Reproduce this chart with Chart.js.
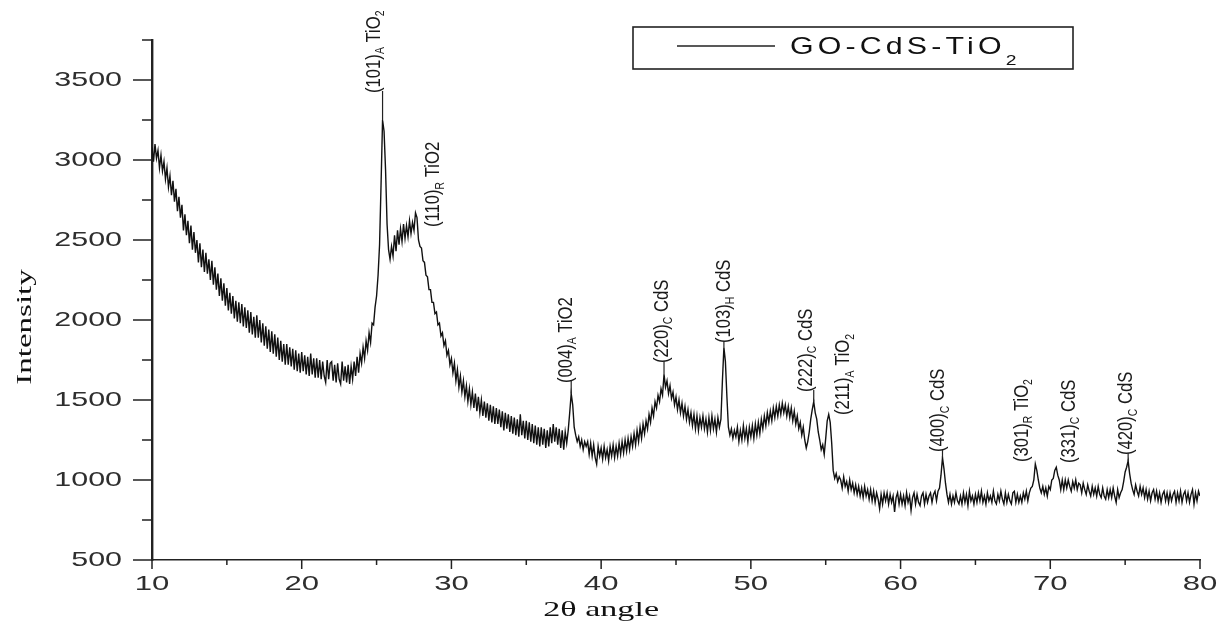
<!DOCTYPE html>
<html>
<head>
<meta charset="utf-8">
<script src="https://cdn.jsdelivr.net/npm/chart.js@4.4.1/dist/chart.umd.min.js"></script>
<style>
  html, body { margin: 0; background: #fff; }
  canvas { display: block; }
</style>
</head>
<body>
<canvas id="xrd" width="1218" height="629"></canvas>
<script>
// XRD pattern of GO-CdS-TiO2, one value every 0.1 degree from 10 to 80
const angleStart = 10;
const angleStep = 0.1;
const intensity = [
  3080, 2990, 3100, 3010, 3060, 2950, 3030, 2930, 2990, 2880, // 10
  2950, 2830, 2900, 2780, 2870, 2740, 2820, 2680, 2770, 2640, // 11
  2720, 2560, 2660, 2530, 2620, 2480, 2590, 2440, 2550, 2420, // 12
  2500, 2360, 2480, 2330, 2440, 2300, 2420, 2290, 2380, 2250, // 13
  2370, 2220, 2330, 2190, 2290, 2150, 2260, 2120, 2230, 2090, // 14
  2200, 2060, 2170, 2040, 2150, 2010, 2120, 1990, 2110, 1980, // 15
  2100, 1960, 2080, 1950, 2060, 1920, 2050, 1910, 2020, 1890, // 16
  2030, 1890, 2000, 1860, 1980, 1840, 1960, 1820, 1940, 1800, // 17
  1930, 1790, 1910, 1770, 1890, 1750, 1870, 1740, 1850, 1720, // 18
  1850, 1720, 1830, 1710, 1820, 1690, 1810, 1680, 1790, 1670, // 19
  1800, 1680, 1780, 1660, 1770, 1650, 1790, 1660, 1760, 1640, // 20
  1760, 1640, 1750, 1630, 1740, 1650, 1610, 1750, 1630, 1730, // 21
  1740, 1620, 1720, 1610, 1730, 1630, 1600, 1740, 1620, 1710, // 22
  1610, 1720, 1600, 1710, 1630, 1740, 1650, 1770, 1670, 1790, // 23
  1730, 1830, 1760, 1870, 1810, 1920, 1860, 1980, 1970, 2080, // 24
  2150, 2280, 2470, 2850, 3250, 3180, 2940, 2600, 2440, 2380, // 25
  2460, 2400, 2530, 2430, 2560, 2470, 2570, 2490, 2600, 2510, // 26
  2590, 2520, 2620, 2540, 2610, 2560, 2670, 2640, 2500, 2460, // 27
  2450, 2370, 2360, 2280, 2270, 2190, 2190, 2110, 2110, 2040, // 28
  2050, 1970, 1980, 1900, 1920, 1840, 1870, 1780, 1810, 1720, // 29
  1760, 1670, 1730, 1620, 1690, 1580, 1650, 1550, 1620, 1520, // 30
  1590, 1490, 1570, 1470, 1550, 1450, 1540, 1430, 1520, 1420, // 31
  1500, 1400, 1490, 1390, 1480, 1370, 1470, 1360, 1460, 1350, // 32
  1450, 1350, 1440, 1330, 1430, 1310, 1420, 1320, 1410, 1300, // 33
  1400, 1290, 1390, 1280, 1380, 1270, 1410, 1280, 1370, 1260, // 34
  1370, 1250, 1360, 1240, 1350, 1230, 1340, 1220, 1330, 1210, // 35
  1330, 1220, 1320, 1200, 1310, 1210, 1330, 1230, 1350, 1240, // 36
  1330, 1220, 1320, 1200, 1310, 1190, 1300, 1230, 1310, 1420, // 37
  1540, 1470, 1330, 1280, 1240, 1270, 1210, 1250, 1190, 1240, // 38
  1210, 1240, 1160, 1230, 1150, 1220, 1140, 1100, 1210, 1150, // 39
  1200, 1130, 1210, 1140, 1190, 1120, 1210, 1150, 1220, 1140, // 40
  1210, 1150, 1230, 1160, 1240, 1170, 1250, 1180, 1260, 1190, // 41
  1270, 1210, 1290, 1220, 1310, 1240, 1330, 1260, 1350, 1290, // 42
  1370, 1320, 1410, 1360, 1450, 1400, 1490, 1450, 1530, 1490, // 43
  1570, 1530, 1660, 1580, 1620, 1540, 1590, 1510, 1550, 1470, // 44
  1520, 1440, 1500, 1420, 1480, 1400, 1460, 1380, 1440, 1360, // 45
  1420, 1340, 1410, 1320, 1400, 1310, 1390, 1330, 1400, 1320, // 46
  1380, 1300, 1390, 1310, 1400, 1320, 1380, 1300, 1390, 1330, // 47
  1380, 1620, 1830, 1740, 1520, 1330, 1280, 1320, 1260, 1310, // 48
  1270, 1330, 1240, 1310, 1250, 1340, 1260, 1320, 1240, 1330, // 49
  1270, 1340, 1260, 1350, 1280, 1360, 1290, 1380, 1320, 1400, // 50
  1340, 1420, 1360, 1430, 1370, 1450, 1390, 1460, 1400, 1470, // 51
  1410, 1480, 1420, 1470, 1400, 1460, 1390, 1450, 1370, 1430, // 52
  1350, 1400, 1320, 1360, 1280, 1330, 1250, 1200, 1240, 1300, // 53
  1380, 1440, 1490, 1420, 1380, 1300, 1250, 1190, 1220, 1160, // 54
  1260, 1370, 1410, 1360, 1230, 1060, 1010, 1040, 990, 1020,  // 55
  1000, 950, 1020, 960, 990, 930, 1000, 940, 980, 920,        // 56
  970, 910, 960, 900, 950, 890, 960, 900, 940, 880,           // 57
  940, 870, 930, 860, 920, 880, 820, 910, 850, 920,           // 58
  870, 920, 850, 910, 860, 900, 800, 890, 920, 850,           // 59
  910, 850, 900, 840, 920, 860, 900, 810, 890, 920,           // 60
  850, 910, 860, 840, 900, 920, 850, 910, 860, 900,           // 61
  920, 860, 910, 930, 870, 930, 950, 1030, 1140, 1070,        // 62
  980, 910, 860, 910, 850, 900, 860, 920, 870, 850,           // 63
  900, 850, 920, 860, 910, 840, 930, 870, 900, 850,           // 64
  910, 860, 920, 870, 930, 860, 900, 850, 920, 870,           // 65
  900, 860, 930, 870, 850, 910, 870, 930, 880, 850,           // 66
  920, 860, 910, 870, 850, 920, 930, 860, 910, 860,           // 67
  900, 860, 920, 880, 930, 870, 920, 950, 960, 1000,          // 68
  1100, 1060, 1000, 950, 920, 960, 910, 950, 900, 960,        // 69
  940, 1000, 1010, 1060, 1080, 1030, 1000, 940, 1000, 940,    // 70
  1000, 950, 1000, 960, 930, 990, 950, 1000, 940, 980,        // 71
  970, 920, 980, 940, 910, 970, 930, 900, 960, 910,           // 72
  950, 900, 960, 910, 890, 950, 900, 880, 940, 890,           // 73
  940, 890, 950, 900, 860, 940, 890, 920, 940, 990,           // 74
  1050, 1080, 1120, 1040, 980, 940, 910, 970, 930, 900,       // 75
  960, 910, 950, 890, 940, 880, 930, 870, 920, 940,           // 76
  880, 930, 870, 920, 860, 910, 930, 870, 920, 860,           // 77
  920, 870, 910, 930, 860, 920, 870, 930, 860, 910,           // 78
  930, 870, 920, 860, 910, 940, 850, 920, 870, 930,           // 79
  900                                                         // 80
];

const xTicks = [10, 20, 30, 40, 50, 60, 70, 80];
const xMinorTicks = [15, 25, 35, 45, 55, 65, 75];
const yTicks = [500, 1000, 1500, 2000, 2500, 3000, 3500];
const yMinorTicks = [750, 1250, 1750, 2250, 2750, 3250, 3750];

// peak annotations: Miller index, phase, compound (+ subscript)
const peakHkl = ['(101)', '(110)', '(004)', '(220)', '(103)', '(222)', '(211)', '(400)', '(301)', '(331)', '(420)'];
const peakPhase = ['A', 'R', 'A', 'C', 'H', 'C', 'A', 'C', 'R', 'C', 'C'];
const peakCompound = ['TiO', 'TiO2', 'TiO2', 'CdS', 'CdS', 'CdS', 'TiO', 'CdS', 'TiO', 'CdS', 'CdS'];
const peakCompoundSub = ['2', '', '', '', '', '', '2', '', '2', '', ''];
// where each label starts (angle, intensity) and the peak it points at
const labelAngle = [24.85, 28.8, 37.65, 44.08, 48.2, 53.68, 56.2, 62.55, 68.1, 71.25, 75.1];
const labelBase = [3419, 2581, 1606, 1731, 1856, 1550, 1406, 1175, 1112, 1106, 1156];
const leaderAngle = [25.4, null, 38.0, 44.2, 48.2, 54.2, null, 62.8, null, null, 75.2];
const leaderTop = [3250, null, 1540, 1660, 1830, 1490, null, 1140, null, null, 1120];

const seriesName = 'GO-CdS-TiO';
const seriesNameSub = '2';

const points = intensity.map((v, i) => ({ x: +(angleStart + i * angleStep).toFixed(1), y: v }));

// draws a run of text pieces (with subscripts), stretched along / across the baseline
function drawRun(ctx, parts, x, y, opts) {
  const rot = opts.rot || 0, sx = opts.sx || 1, sy = opts.sy || 1, align = opts.align || 'left';
  ctx.save();
  ctx.translate(x, y);
  if (rot) ctx.rotate(rot);
  ctx.scale(sx, sy);
  let w = 0;
  parts.forEach(p => { ctx.font = p.font; w += ctx.measureText(p.text).width; });
  let cx = align === 'right' ? -w : align === 'center' ? -w / 2 : 0;
  ctx.textAlign = 'left';
  ctx.textBaseline = 'middle';
  parts.forEach(p => {
    ctx.font = p.font;
    ctx.fillText(p.text, cx, p.dy || 0);
    cx += ctx.measureText(p.text).width;
  });
  ctx.restore();
}

const decor = {
  id: 'decor',
  afterDraw(chart) {
    const { ctx, chartArea: area } = chart;
    const xs = chart.scales.x, ys = chart.scales.y;
    ctx.save();
    ctx.strokeStyle = '#222';

    // tick marks, outward
    ctx.lineWidth = 1.5;
    ctx.beginPath();
    xTicks.forEach(v => { const p = xs.getPixelForValue(v); ctx.moveTo(p, area.bottom); ctx.lineTo(p, area.bottom + 9); });
    xMinorTicks.forEach(v => { const p = xs.getPixelForValue(v); ctx.moveTo(p, area.bottom); ctx.lineTo(p, area.bottom + 5); });
    ctx.stroke();
    ctx.lineWidth = 1.6;
    ctx.beginPath();
    yTicks.forEach(v => { const p = ys.getPixelForValue(v); ctx.moveTo(area.left - 19, p); ctx.lineTo(area.left, p); });
    yMinorTicks.forEach(v => { const p = ys.getPixelForValue(v); ctx.moveTo(area.left - 10, p); ctx.lineTo(area.left, p); });
    ctx.stroke();

    // tick labels
    ctx.fillStyle = '#2e2e2e';
    const tickFont = '21px "Liberation Sans", Arial, sans-serif';
    yTicks.forEach(v => drawRun(ctx, [{ text: String(v), font: tickFont }], area.left - 30, ys.getPixelForValue(v), { sx: 1.45, align: 'right' }));
    xTicks.forEach(v => drawRun(ctx, [{ text: String(v), font: tickFont }], xs.getPixelForValue(v), area.bottom + 24, { sx: 1.48, align: 'center' }));

    // axis titles
    ctx.fillStyle = '#111';
    const titleFont = '22px "Liberation Serif", "Times New Roman", serif';
    drawRun(ctx, [{ text: '2θ angle', font: titleFont }], xs.getPixelForValue(40), area.bottom + 50, { sx: 1.55, align: 'center' });
    drawRun(ctx, [{ text: 'Intensity', font: titleFont }], 25, (area.top + area.bottom) / 2 + 27, { sx: 1.5, align: 'center', rot: -Math.PI / 2 });

    // peak labels with leader lines
    ctx.fillStyle = '#1a1a1a';
    ctx.lineWidth = 1.2;
    const f = '16px "Liberation Sans", Arial, sans-serif';
    const fs = '10px "Liberation Sans", Arial, sans-serif';
    peakHkl.forEach((hkl, i) => {
      const parts = [
        { text: hkl, font: f },
        { text: peakPhase[i], font: fs, dy: 5 },
        { text: ' ' + peakCompound[i], font: f }
      ];
      if (peakCompoundSub[i]) parts.push({ text: peakCompoundSub[i], font: fs, dy: 5 });
      drawRun(ctx, parts, xs.getPixelForValue(labelAngle[i]), ys.getPixelForValue(labelBase[i]), { rot: -Math.PI / 2, sx: 1.04, sy: 1.3 });
      if (leaderAngle[i] !== null) {
        const lx = xs.getPixelForValue(leaderAngle[i]);
        ctx.beginPath();
        ctx.moveTo(lx, ys.getPixelForValue(leaderTop[i]));
        ctx.lineTo(lx, ys.getPixelForValue(labelBase[i]) - 2);
        ctx.stroke();
      }
    });

    // legend box
    ctx.lineWidth = 1.6;
    ctx.strokeRect(633, 27, 440, 42);
    ctx.lineWidth = 1.3;
    ctx.beginPath();
    ctx.moveTo(677, 46);
    ctx.lineTo(775, 46);
    ctx.stroke();
    ctx.fillStyle = '#111';
    ctx.letterSpacing = '3px';
    drawRun(ctx, [
      { text: seriesName, font: '22px "Liberation Sans", Arial, sans-serif' },
      { text: seriesNameSub, font: '14px "Liberation Sans", Arial, sans-serif', dy: 13 }
    ], 790, 47, { sx: 1.38, sy: 1.08 });
    ctx.restore();
  }
};

new Chart(document.getElementById('xrd'), {
  type: 'line',
  data: {
    datasets: [{
      label: seriesName + '₂',
      data: points,
      borderColor: '#111',
      borderWidth: 1.4,
      pointRadius: 0,
      tension: 0,
      fill: false
    }]
  },
  options: {
    responsive: false,
    animation: false,
    devicePixelRatio: 1,
    layout: { padding: { left: 0, right: 18, top: 40, bottom: 0 } },
    plugins: { legend: { display: false }, tooltip: { enabled: false } },
    scales: {
      x: {
        type: 'linear',
        min: 10,
        max: 80,
        grid: { display: false },
        ticks: { display: false },
        border: { color: '#222', width: 1.6 },
        afterFit: s => { s.height = 69; }
      },
      y: {
        min: 500,
        max: 3750,
        grid: { display: false },
        ticks: { display: false },
        border: { color: '#222', width: 2.4 },
        afterFit: s => { s.width = 152; }
      }
    }
  },
  plugins: [decor]
});
</script>
</body>
</html>
